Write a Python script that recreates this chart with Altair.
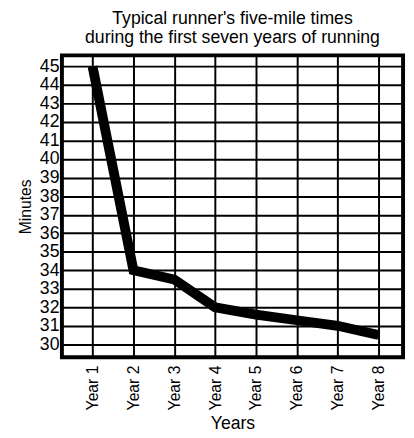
import altair as alt
import pandas as pd

years = [1, 2, 3, 4, 5, 6, 7, 8]
minutes = [45.0, 34.0, 33.5, 32.0, 31.6, 31.3, 31.0, 30.5]
y_ticks = list(range(30, 46))

df = pd.DataFrame({"year": years, "minutes": minutes})

FONT = "Liberation Sans"

chart = alt.Chart(df).mark_line(color="black", strokeWidth=10, strokeJoin="miter", strokeCap="butt").encode(
    x=alt.X("year:Q",
            scale=alt.Scale(domain=[0.25, 8.6], nice=False, zero=False),
            axis=alt.Axis(values=years, labelExpr="'Year ' + datum.value", labelAngle=-90,
                          labelAlign="right", labelBaseline="middle", title="Years",
                          ticks=False, labelPadding=8, labelFontSize=16, titleFontSize=18,
                          titlePadding=5, domain=False, gridColor="black", gridWidth=2,
                          gridOpacity=1)),
    y=alt.Y("minutes:Q",
            scale=alt.Scale(domain=[29.3, 45.6], nice=False, zero=False),
            axis=alt.Axis(values=y_ticks, title="Minutes", ticks=False, labelPadding=3,
                          labelFontSize=18, titleFontSize=16, titlePadding=6, domain=False,
                          gridColor="black", gridWidth=2, gridOpacity=1)),
).properties(
    width=348,
    height=308,
    title=alt.TitleParams(["Typical runner's five-mile times", "during the first seven years of running"],
                          fontSize=18, fontWeight="normal", font=FONT, color="black",
                          lineHeight=19, offset=0, anchor="middle"),
    autosize=alt.AutoSizeParams(type="none"),
    padding={"left": 55, "top": 44, "right": 3, "bottom": 78},
).configure_view(
    stroke="black", strokeWidth=4
).configure_axis(
    labelFont=FONT, titleFont=FONT, labelColor="black", titleColor="black", titleFontWeight="normal"
)

chart.save("out.html", embed_options={"renderer": "svg", "actions": False})
